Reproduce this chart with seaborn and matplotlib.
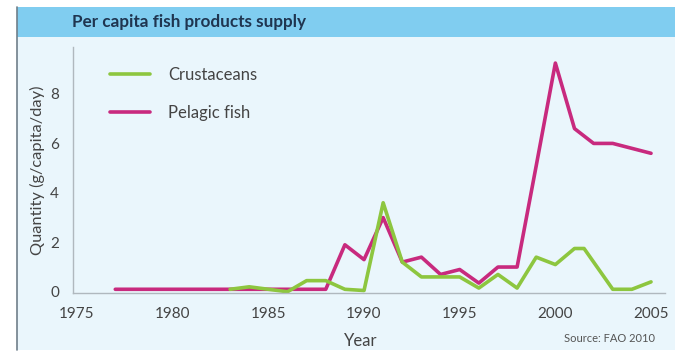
import matplotlib
matplotlib.use("Agg")
import matplotlib.pyplot as plt
from matplotlib.patches import Rectangle
from matplotlib.lines import Line2D
import numpy as np
import pandas as pd
import seaborn as sns

# Per capita supply, g/capita/day
years_pelagic = [1977, 1978, 1979, 1980, 1981, 1982, 1983, 1984, 1985, 1986, 1987, 1988,
                 1989, 1990, 1991, 1992, 1993, 1994, 1995, 1996, 1997, 1998, 1999, 2000,
                 2001, 2002, 2003, 2004, 2005]
pelagic = [0.1, 0.1, 0.1, 0.1, 0.1, 0.1, 0.1, 0.1, 0.1, 0.1, 0.1, 0.1,
           1.9, 1.3, 3.0, 1.2, 1.4, 0.7, 0.9, 0.35, 1.0, 1.0, 5.1, 9.25,
           6.6, 6.0, 6.0, 5.8, 5.6]

years_crust = [1983, 1984, 1985, 1986, 1987, 1988, 1989, 1990, 1991, 1992, 1993, 1994,
               1995, 1996, 1997, 1998, 1999, 2000, 2001, 2001.5, 2002, 2003, 2004, 2005]
crustaceans = [0.1, 0.2, 0.1, 0.0, 0.45, 0.45, 0.1, 0.05, 3.6, 1.2, 0.6, 0.6,
               0.6, 0.15, 0.7, 0.15, 1.4, 1.1, 1.75, 1.75, 1.2, 0.1, 0.1, 0.4]

series_names = ["Crustaceans", "Pelagic fish"]
x_ticks = [1975, 1980, 1985, 1990, 1995, 2000, 2005]
y_ticks = [0, 2, 4, 6, 8]

# pelagic first so the crustacean line sits on top
df = pd.concat([
    pd.DataFrame({"Year": years_pelagic, "Quantity": pelagic, "Series": series_names[1]}),
    pd.DataFrame({"Year": years_crust, "Quantity": crustaceans, "Series": series_names[0]}),
], ignore_index=True)

sns.set_style("white")
plt.rcParams["font.family"] = ["Lato", "DejaVu Sans"]

W, H = 675, 352
fig = plt.figure(figsize=(W / 100, H / 100), dpi=100, facecolor="white")

def px_rect(x0, y0, x1, y1, **kw):
    r = Rectangle((x0 / W, 1 - y1 / H), (x1 - x0) / W, (y1 - y0) / H,
                  transform=fig.transFigure, zorder=-10, **kw)
    fig.add_artist(r)

# panel background, header band and left edge
px_rect(17, 7, 676, 350, facecolor="#eaf6fc", edgecolor="none")
px_rect(17, 7, 676, 37, facecolor="#80cdf0", edgecolor="none")
fig.add_artist(Line2D([17 / W, 17 / W], [1 - 350 / H, 1 - 7 / H], transform=fig.transFigure,
                      color="#6f7f8a", lw=1.2, zorder=-5))
fig.text(72 / W, 1 - 22 / H, "Per capita fish products supply", fontsize=12.3, fontweight="bold",
         color="#1f3550", va="center", ha="left")

ax = fig.add_axes([73 / W, 1 - 293 / H, (665 - 73) / W, (293 - 47) / H])
ax.set_facecolor("none")
ax.set_zorder(1)

palette = {"Crustaceans": "#8dc63f", "Pelagic fish": "#c82a7e"}
sns.lineplot(data=df, x="Year", y="Quantity", hue="Series", palette=palette,
             hue_order=[series_names[1], series_names[0]],
             linewidth=2.6, ax=ax, legend=False, sort=True,
             solid_joinstyle="round", solid_capstyle="round")

ax.set_xlim(1974.79, 2005.73)
ax.set_ylim(-0.05, 9.9)
ax.set_xticks(x_ticks)
ax.set_yticks(y_ticks)
ax.tick_params(axis="both", length=3, width=0.8, color="#b0b8be", labelsize=11,
               labelcolor="#444444", direction="out")
ax.tick_params(axis="x", pad=7)
ax.tick_params(axis="y", pad=7)
for s in ["top", "right"]:
    ax.spines[s].set_visible(False)
for s in ["left", "bottom"]:
    ax.spines[s].set_color("#b0b8be")
    ax.spines[s].set_linewidth(1.0)

ax.set_xlabel("")
ax.set_ylabel("Quantity (g/capita/day)", fontsize=11.8, color="#444444", labelpad=4)
fig.text(361 / W, 1 - 341 / H, "Year", fontsize=12, color="#444444", ha="center", va="center")
fig.text(655 / W, 1 - 339 / H, "Source: FAO 2010", fontsize=8, color="#555555",
         ha="right", va="center")

handles = [Line2D([], [], color=palette[n], lw=2.6, solid_capstyle="round") for n in series_names]
ax.legend(handles, series_names, loc="upper left",
          bbox_to_anchor=((110 - 73) / 592, (293 - 67) / 246),
          frameon=False, fontsize=12, labelcolor="#444444", handlelength=2.4,
          handletextpad=1.1, labelspacing=1.3, borderpad=0, borderaxespad=0)

fig.savefig("out.png", dpi=100, facecolor="white")
